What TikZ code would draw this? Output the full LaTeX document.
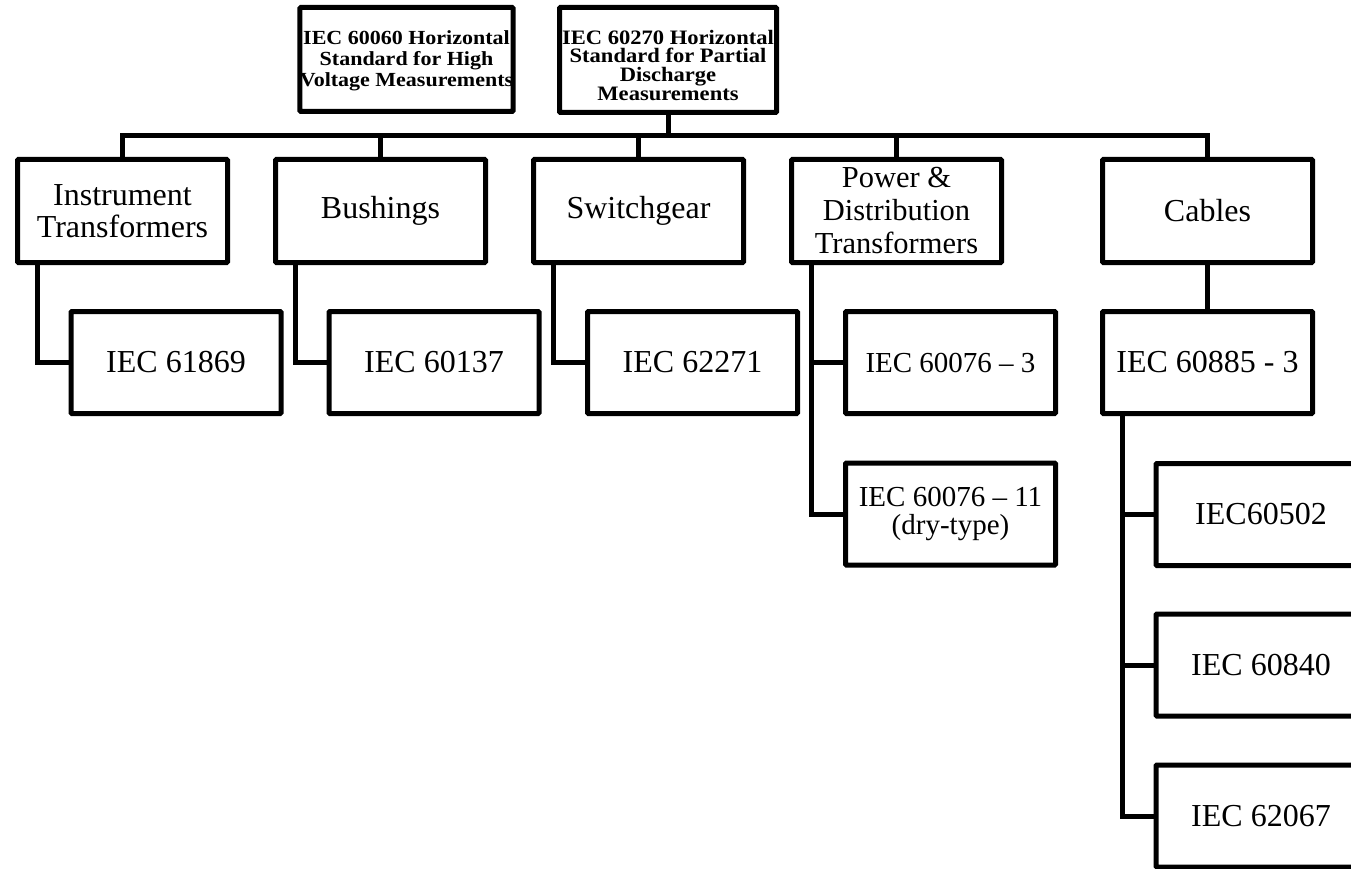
\documentclass[tikz,border=0pt]{standalone}
\usepackage{fontspec}
\setmainfont{Liberation Serif}
\newfontfamily\topfont[FakeStretch=1.1]{Liberation Serif}
\begin{document}
\begin{tikzpicture}[x=1pt,y=-1pt,
  box/.style={draw,line width=5pt,rounded corners=1pt,inner sep=0pt,align=center,minimum width=210pt,minimum height=103pt,font=\fontsize{32}{32.5}\selectfont},
  childbox/.style={box,minimum height=102pt},
  topbox/.style={draw,line width=5pt,rounded corners=1pt,inner sep=0pt,align=center,font=\topfont\bfseries\fontsize{20}{20.8}\selectfont},
  conn/.style={line width=5pt}]
\useasboundingbox (0,0) rectangle (1351,869);
\clip (0,0) rectangle (1351,869);
% top standards
\node[topbox,minimum width=210pt,minimum height=104pt] (hv) at (406.5,59.5) {\rule{0pt}{16pt}IEC 60060 Horizontal\\Standard for High\\Voltage Measurements};
\node[topbox,minimum width=217pt,minimum height=105pt,font=\topfont\bfseries\fontsize{20.5}{18.8}\selectfont] (pd) at (668,60) {\rule{0pt}{25pt}IEC 60270 Horizontal\\Standard for Partial\\Discharge\\Measurements};
% level 1
\node[box] (it) at (122.5,211) {Instrument\\Transformers};
\node[box] (bu) at (380.5,211) {Bushings};
\node[box] (sw) at (638.5,211) {Switchgear};
\node[box,font=\fontsize{30.5}{33}\selectfont] (pt) at (896.5,211) {Power \&\\Distribution\\Transformers};
\node[box] (ca) at (1207.5,211) {Cables};
% level 2
\node[childbox] (s61869) at (176,362.5) {IEC 61869};
\node[childbox] (s60137) at (434,362.5) {IEC 60137};
\node[childbox] (s62271) at (692.5,362.5) {IEC 62271};
\node[childbox,font=\fontsize{29}{28}\selectfont] (s600763) at (950.5,362.5) {IEC 60076 \textendash{} 3};
\node[childbox,font=\fontsize{29}{28}\selectfont] (s6007611) at (950.5,514) {IEC 60076 \textendash{} 11\\(dry-type)};
\node[childbox] (s60885) at (1207.5,362.5) {IEC 60885 - 3};
\node[childbox] (s60502) at (1261,514.5) {IEC60502};
\node[childbox] (s60840) at (1261,665) {IEC 60840};
\node[childbox] (s62067) at (1261,816) {IEC 62067};
% bus
\coordinate (bus) at (0,136);
\draw[conn] (it.north) -- (it.north |- bus) -- (ca.north |- bus) -- (ca.north);
\draw[conn] (bu.north) -- (bu.north |- bus);
\draw[conn] (sw.north) -- (sw.north |- bus);
\draw[conn] (pt.north) -- (pt.north |- bus);
\draw[conn] (pd.south) -- (pd.south |- bus);
% children
\draw[conn] ([xshift=22pt]it.south west) |- (s61869.west);
\draw[conn] ([xshift=22pt]bu.south west) |- (s60137.west);
\draw[conn] ([xshift=22pt]sw.south west) |- (s62271.west);
\draw[conn] ([xshift=22pt]pt.south west) |- (s600763.west);
\draw[conn] ([xshift=22pt]pt.south west) |- (s6007611.west);
\draw[conn] (ca.south) -- (ca.south |- s60885.north);
\draw[conn] ([xshift=22pt]s60885.south west) |- (s60502.west);
\draw[conn] ([xshift=22pt]s60885.south west) |- (s60840.west);
\draw[conn] ([xshift=22pt]s60885.south west) |- (s62067.west);
\end{tikzpicture}
\end{document}
